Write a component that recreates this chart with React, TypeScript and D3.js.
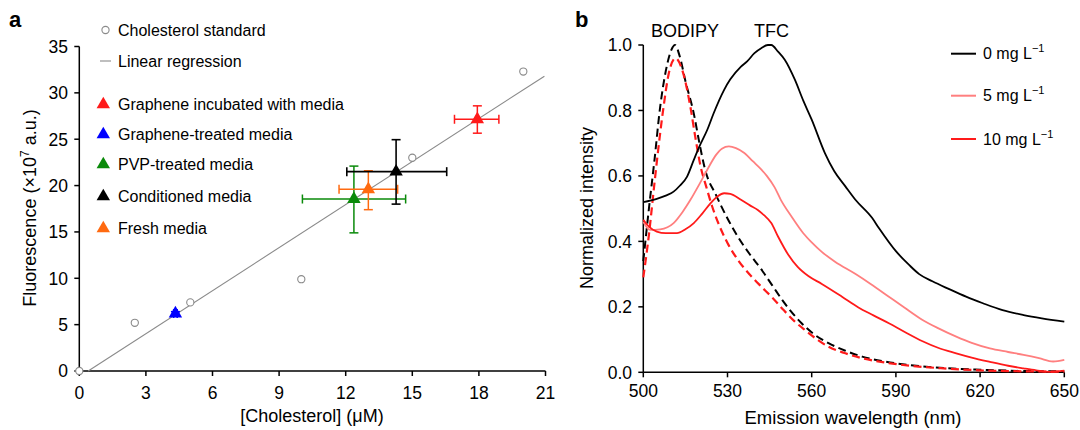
import React from "react";
import * as d3 from "d3";

// ---------- Panel a data ----------
const stdX = [0, 2.5, 5, 10, 15, 20];
const stdY = [0, 5.2, 7.4, 9.9, 23.0, 32.3];
const regX = [0.4, 20.95];
const regY = [0, 31.8];

const groupNames = [
  "Graphene incubated with media",
  "Graphene-treated media",
  "PVP-treated media",
  "Conditioned media",
  "Fresh media",
];
const groupColors = ["#ff1a1a", "#0000ff", "#0a8a0a", "#000000", "#ff6a10"];
const groupX = [17.93, 4.33, 12.37, 14.27, 13.02];
const groupY = [27.15, 6.2, 18.55, 21.5, 19.6];
const groupXLo = [16.9, 4.25, 10.05, 12.05, 11.7];
const groupXHi = [18.9, 4.41, 14.7, 16.55, 14.34];
const groupYLo = [25.65, 6.0, 14.9, 18.0, 17.4];
const groupYHi = [28.6, 6.4, 22.1, 24.95, 21.6];

const aXTicks = [0, 3, 6, 9, 12, 15, 18, 21];
const aYTicks = [0, 5, 10, 15, 20, 25, 30, 35];

// ---------- Panel b data ----------
const bXTicks = [500, 530, 560, 590, 620, 650];
const bYTicks = [0, 0.2, 0.4, 0.6, 0.8, 1.0];

const blackDashNm = [500, 502, 504, 506, 508, 510, 511.3, 513, 515, 518, 520, 522, 526, 530, 534, 538, 542, 546, 550, 556.4, 561, 566, 572, 578, 586, 595, 607, 620, 635, 650];
const blackDashV = [0.34, 0.5, 0.65, 0.81, 0.92, 0.985, 1.0, 0.965, 0.89, 0.79, 0.7, 0.62, 0.54, 0.47, 0.41, 0.36, 0.315, 0.265, 0.215, 0.15, 0.115, 0.089, 0.066, 0.048, 0.033, 0.022, 0.013, 0.008, 0.004, 0.003];

const redDashNm = [500, 502, 504, 506, 507.2, 509, 511.5, 514, 516.8, 518.5, 520.4, 522.5, 524.6, 527, 530, 534, 538, 542, 546, 550, 554, 557.6, 562, 566, 572, 578, 586, 595, 607, 620, 635, 650];
const redDashV = [0.29, 0.42, 0.58, 0.73, 0.81, 0.91, 0.96, 0.92, 0.81, 0.72, 0.63, 0.565, 0.505, 0.45, 0.395, 0.34, 0.298, 0.262, 0.228, 0.19, 0.155, 0.129, 0.1, 0.078, 0.058, 0.043, 0.03, 0.02, 0.012, 0.006, 0.003, 0.002];

const zeroNm = [500, 504.8, 508, 510.8, 513, 515.6, 518, 520, 522.8, 525, 528.8, 531, 534.8, 537, 539.6, 542, 544.4, 545.6, 548, 550.4, 554, 557, 560, 564.7, 568, 572, 575.5, 581.5, 584, 590, 594.7, 598.3, 603, 609, 615, 621, 628, 635.5, 642, 650];
const zeroV = [0.52, 0.53, 0.54, 0.552, 0.57, 0.598, 0.649, 0.69, 0.741, 0.79, 0.863, 0.895, 0.934, 0.95, 0.975, 0.99, 1.0, 1.0, 0.98, 0.955, 0.894, 0.83, 0.772, 0.67, 0.615, 0.568, 0.528, 0.472, 0.44, 0.37, 0.328, 0.3, 0.278, 0.254, 0.231, 0.211, 0.19, 0.175, 0.165, 0.155];

const fiveNm = [500, 502.4, 506, 510.8, 514, 516.8, 520, 522.8, 526, 528, 530.5, 533, 536, 539, 542, 544, 546.8, 549, 552.8, 557, 560, 563.6, 568.3, 575.5, 581, 587.5, 593, 599.5, 605, 611.5, 617, 623.5, 630, 635.5, 641, 646, 650];
const fiveV = [0.46, 0.435, 0.437, 0.456, 0.49, 0.527, 0.575, 0.619, 0.665, 0.683, 0.69, 0.685, 0.67, 0.645, 0.62, 0.6, 0.565, 0.527, 0.476, 0.425, 0.397, 0.368, 0.338, 0.301, 0.27, 0.231, 0.198, 0.16, 0.135, 0.109, 0.09, 0.073, 0.062, 0.053, 0.043, 0.033, 0.038];

const tenNm = [500, 502, 504.8, 508, 512, 515, 518, 521, 524, 526.5, 528.8, 531, 534.8, 538, 540.8, 543, 545.6, 548, 551.6, 555, 558.8, 563.6, 570.8, 576.5, 582, 587.5, 593, 599.5, 605, 611.5, 617, 623.5, 630, 635.5, 640, 645, 650];
const tenV = [0.466, 0.445, 0.43, 0.425, 0.425, 0.437, 0.456, 0.485, 0.517, 0.538, 0.547, 0.545, 0.527, 0.51, 0.496, 0.48, 0.456, 0.415, 0.36, 0.322, 0.294, 0.27, 0.231, 0.199, 0.174, 0.15, 0.124, 0.095, 0.075, 0.058, 0.045, 0.032, 0.02, 0.012, 0.006, 0.001, 0.005];

const bSeries = [
  { name: "BODIPY 0", nm: blackDashNm, v: blackDashV, color: "#000000", dash: "8,4.5", w: 2 },
  { name: "BODIPY 10", nm: redDashNm, v: redDashV, color: "#ff1a1a", dash: "8,4.5", w: 2.2 },
  { name: "0", nm: zeroNm, v: zeroV, color: "#000000", dash: null, w: 1.8 },
  { name: "5", nm: fiveNm, v: fiveV, color: "#ff7f7f", dash: null, w: 1.8 },
  { name: "10", nm: tenNm, v: tenV, color: "#ff1a1a", dash: null, w: 1.8 },
];
const bLegendLabels = ["0 mg L", "5 mg L", "10 mg L"];
const bLegendColors = ["#000000", "#ff7f7f", "#ff1a1a"];

const FONT = "'Liberation Sans', Arial, Helvetica, sans-serif";

export default function App() {
  // Panel a scales
  const ax = d3.scaleLinear().domain([0, 21]).range([79.3, 545.5]);
  const ay = d3.scaleLinear().domain([0, 35]).range([371, 46.5]);
  // Panel b scales
  const bx = d3.scaleLinear().domain([500, 650]).range([643.3, 1064.3]);
  const by = d3.scaleLinear().domain([0, 1]).range([372.3, 45]);

  const tri = d3.symbol().type(d3.symbolTriangle).size(78)();
  const line = d3
    .line<[number, number]>()
    .x((d) => bx(d[0]))
    .y((d) => by(d[1]))
    .curve(d3.curveMonotoneX);

  const legendAY = [30, 61, 104.5, 134.5, 164.5, 196.5, 228.5];

  return (
    <svg
      width={1080}
      height={430}
      style={{ position: "absolute", left: 0, top: 0, background: "#fff" }}
      fontFamily={FONT}
    >
      {/* ================= Panel a ================= */}
      <text x={9} y={27} fontSize={22} fontWeight="bold">a</text>

      {/* axes */}
      <line x1={ax(0)} x2={ax(0)} y1={ay(35)} y2={ay(0)} stroke="#000" strokeWidth={1.5} />
      <line x1={ax(0)} x2={ax(21)} y1={ay(0)} y2={ay(0)} stroke="#000" strokeWidth={1.5} />
      {aYTicks.map((t) => (
        <g key={"ay" + t}>
          <line x1={ax(0) - 5} x2={ax(0)} y1={ay(t)} y2={ay(t)} stroke="#000" strokeWidth={1.5} />
          <text x={68} y={ay(t)} dy="0.36em" textAnchor="end" fontSize={17.5}>{t}</text>
        </g>
      ))}
      {aXTicks.map((t) => (
        <g key={"ax" + t}>
          <line x1={ax(t)} x2={ax(t)} y1={ay(0)} y2={ay(0) + 5} stroke="#000" strokeWidth={1.5} />
          <text x={ax(t)} y={399} textAnchor="middle" fontSize={17.5}>{t}</text>
        </g>
      ))}
      <text x={312} y={422} textAnchor="middle" fontSize={18}>[Cholesterol] (μM)</text>
      <text transform="translate(36,208) rotate(-90)" textAnchor="middle" fontSize={18}>
        Fluorescence (×10
        <tspan dy={-7} fontSize={12}>7</tspan>
        <tspan dy={7}> a.u.)</tspan>
      </text>

      {/* regression line */}
      <line
        x1={ax(regX[0])}
        y1={ay(regY[0])}
        x2={ax(regX[1])}
        y2={ay(regY[1])}
        stroke="#8a8a8a"
        strokeWidth={1.1}
      />
      {/* standard points */}
      {stdX.map((x, i) => (
        <circle key={"s" + i} cx={ax(x)} cy={ay(stdY[i])} r={3.6} fill="#fff" stroke="#8a8a8a" strokeWidth={1.1} />
      ))}

      {/* error bars + triangles */}
      {[2, 4, 3, 1, 0].map((i) => {
        const c = groupColors[i];
        const cx = ax(groupX[i]);
        const cy = ay(groupY[i]);
        const cap = 4.5;
        const sw = i === 3 ? 1.6 : 1.5;
        return (
          <g key={"g" + i}>
            <line x1={ax(groupXLo[i])} x2={ax(groupXHi[i])} y1={cy} y2={cy} stroke={c} strokeWidth={sw} />
            <line x1={ax(groupXLo[i])} x2={ax(groupXLo[i])} y1={cy - cap} y2={cy + cap} stroke={c} strokeWidth={sw} />
            <line x1={ax(groupXHi[i])} x2={ax(groupXHi[i])} y1={cy - cap} y2={cy + cap} stroke={c} strokeWidth={sw} />
            <line x1={cx} x2={cx} y1={ay(groupYLo[i])} y2={ay(groupYHi[i])} stroke={c} strokeWidth={sw} />
            <line x1={cx - cap} x2={cx + cap} y1={ay(groupYLo[i])} y2={ay(groupYLo[i])} stroke={c} strokeWidth={sw} />
            <line x1={cx - cap} x2={cx + cap} y1={ay(groupYHi[i])} y2={ay(groupYHi[i])} stroke={c} strokeWidth={sw} />
            <path d={tri || ""} transform={`translate(${cx},${cy})`} fill={c} />
          </g>
        );
      })}

      {/* legend a */}
      <circle cx={105.5} cy={legendAY[0]} r={3.6} fill="#fff" stroke="#8a8a8a" strokeWidth={1.1} />
      <text x={118} y={legendAY[0]} dy="0.36em" fontSize={16}>Cholesterol standard</text>
      <line x1={100} x2={111} y1={legendAY[1]} y2={legendAY[1]} stroke="#8a8a8a" strokeWidth={1.1} />
      <text x={118} y={legendAY[1]} dy="0.36em" fontSize={16}>Linear regression</text>
      {groupNames.map((n, i) => (
        <g key={"la" + i}>
          <path d={tri || ""} transform={`translate(103.3,${legendAY[i + 2]})`} fill={groupColors[i]} />
          <text x={118} y={legendAY[i + 2]} dy="0.36em" fontSize={16}>{n}</text>
        </g>
      ))}

      {/* ================= Panel b ================= */}
      <text x={575} y={27} fontSize={22} fontWeight="bold">b</text>
      <text x={685} y={37} textAnchor="middle" fontSize={18}>BODIPY</text>
      <text x={771.5} y={37} textAnchor="middle" fontSize={18}>TFC</text>

      <line x1={bx(500)} x2={bx(500)} y1={by(1)} y2={by(0)} stroke="#000" strokeWidth={1.5} />
      <line x1={bx(500)} x2={bx(650)} y1={by(0)} y2={by(0)} stroke="#000" strokeWidth={1.5} />
      {bYTicks.map((t) => (
        <g key={"by" + t}>
          <line x1={bx(500) - 5} x2={bx(500)} y1={by(t)} y2={by(t)} stroke="#000" strokeWidth={1.5} />
          <text x={632} y={by(t)} dy="0.36em" textAnchor="end" fontSize={17.5}>{t.toFixed(1)}</text>
        </g>
      ))}
      {bXTicks.map((t) => (
        <g key={"bx" + t}>
          <line x1={bx(t)} x2={bx(t)} y1={by(0)} y2={by(0) + 5} stroke="#000" strokeWidth={1.5} />
          <text x={bx(t)} y={397} textAnchor="middle" fontSize={17.5}>{t}</text>
        </g>
      ))}
      <text x={853} y={424} textAnchor="middle" fontSize={18.5}>Emission wavelength (nm)</text>
      <text transform="translate(593,208) rotate(-90)" textAnchor="middle" fontSize={18}>Normalized intensity</text>

      {bSeries.map((s) => (
        <path
          key={s.name}
          d={line(s.nm.map((n, i) => [n, s.v[i]] as [number, number])) || ""}
          fill="none"
          stroke={s.color}
          strokeWidth={s.w}
          strokeDasharray={s.dash || undefined}
          strokeLinejoin="round"
        />
      ))}

      {bLegendLabels.map((l, i) => {
        const y = [53.7, 95.7, 139][i];
        return (
          <g key={"lb" + i}>
            <line x1={951} x2={976} y1={y} y2={y} stroke={bLegendColors[i]} strokeWidth={2} />
            <text x={983} y={y} dy="0.36em" fontSize={16}>
              {l}
              <tspan dy={-7} fontSize={11}>−1</tspan>
            </text>
          </g>
        );
      })}
    </svg>
  );
}
